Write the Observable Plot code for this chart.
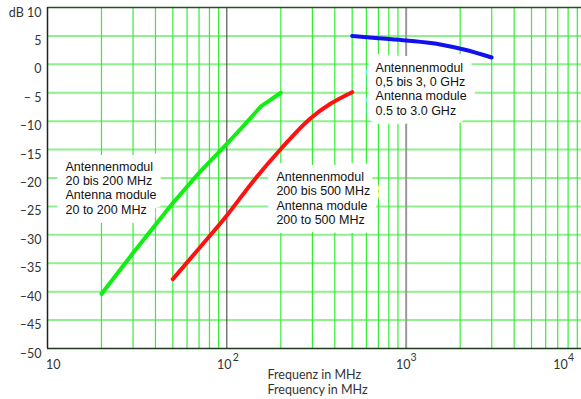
<!DOCTYPE html>
<html>
<head>
<meta charset="utf-8">
<script src="https://cdn.jsdelivr.net/npm/d3@7"></script>
<script src="https://cdn.jsdelivr.net/npm/@observablehq/plot@0.6"></script>
<style>
  html, body { margin: 0; padding: 0; background: #fff; }
</style>
</head>
<body>
<div id="chart"></div>
<script>
// ---- data ----
const greenFreq = [20, 30, 50, 70, 100, 120, 155, 200];
const greenDb   = [-40.4, -33.2, -24.4, -19.1, -14.0, -11.3, -7.4, -5.0];

const redFreq = [50, 70, 100, 140, 200, 290, 380, 500];
const redDb   = [-37.8, -32.4, -26.6, -20.6, -14.9, -9.6, -6.9, -4.9];

const blueFreq = [500, 700, 1000, 1550, 2100, 3000];
const blueDb   = [5.0, 4.6, 4.2, 3.5, 2.6, 1.2];

const labelText = [
  "Antennenmodul\n20 bis 200 MHz\nAntenna module\n20 to 200 MHz",
  "Antennenmodul\n200 bis 500 MHz\nAntenna module\n200 to 500 MHz",
  "Antennenmodul\n0,5 bis 3, 0 GHz\nAntenna module\n0.5 to 3.0 GHz"
];
const labelFreq = [12.6, 189, 675];
const labelDb   = [-16.9, -18.7, 0.5];

const yTickValues = [10, 5, 0, -5, -10, -15, -20, -25, -30, -35, -40, -45, -50];
const yTickLabels = ["dB 10", "5", "0", "\u2013 5", "\u201310", "\u201315", "\u201320", "\u201325", "\u201330", "\u201335", "\u201340", "\u201345", "\u201350"];

const xTickValues = [10, 100, 1000, 10000];
const xTickBase = ["10", "10", "10", "10"];
const xTickExp = ["", "2", "3", "4"];

const minorFreq = [];
for (const d of [10, 100, 1000]) for (let k = 2; k <= 9; k++) minorFreq.push(k * d);
const gridDb = [5, 0, -5, -10, -15, -20, -25, -30, -35, -40, -45];

const xTitle = "Frequenz in MHz\nFrequency in MHz";

// ---- tables ----
const toRows = (fs, ds) => fs.map((f, i) => ({f, db: ds[i]}));
const green = toRows(greenFreq, greenDb);
const red = toRows(redFreq, redDb);
const blue = toRows(blueFreq, blueDb);
const labels = labelText.map((t, i) => ({t, f: labelFreq[i], db: labelDb[i]}));
const yTicks = yTickValues.map((v, i) => ({v, t: yTickLabels[i]}));
const xTicks = xTickValues.map((v, i) => ({v, b: xTickBase[i], e: xTickExp[i]}));

const axisFont = "Lato, 'DejaVu Sans', sans-serif";
const annFont = "'Liberation Sans', Arial, sans-serif";
const tickStyle = {fontSize: 12.5, fill: "#333", fontFamily: axisFont, frameAnchor: "bottom", lineAnchor: "top"};
const expStyle = {fontSize: 10.5, fill: "#333", fontFamily: axisFont, frameAnchor: "bottom", lineAnchor: "top", textAnchor: "middle"};
const labelStyle = {x: "f", y: "db", text: "t", textAnchor: "start", lineAnchor: "top",
  fontSize: 12.5, lineHeight: 1.15, fontFamily: annFont};

const chart = Plot.plot({
  width: 581,
  height: 399,
  marginLeft: 47,
  marginRight: 0,
  marginTop: 7,
  marginBottom: 51,
  style: {background: "white", fontFamily: axisFont, overflow: "visible"},
  x: {type: "log", domain: [10, 9500], axis: null},
  y: {domain: [-50, 10], axis: null},
  marks: [
    Plot.ruleY(gridDb, {stroke: "#8ef08e", strokeWidth: 2}),
    Plot.ruleX(minorFreq, {stroke: "#33ee33", strokeWidth: 1.2}),
    Plot.ruleX([100], {stroke: "#333", strokeWidth: 1}),
    Plot.ruleX([1000], {stroke: "#999", strokeWidth: 2}),
    Plot.ruleY([10], {stroke: "#2a4a2a", strokeWidth: 1.5}),
    Plot.ruleY([-50], {stroke: "#1a3a1a", strokeWidth: 1.5}),
    Plot.ruleX([10], {stroke: "#222", strokeWidth: 1.5}),
    // white boxes behind annotation labels (halo layer)
    Plot.text(labels, {...labelStyle, fill: "white", stroke: "white", strokeWidth: 18, strokeLinejoin: "round"}),
    // curves
    Plot.line(green, {x: "f", y: "db", stroke: "#11ee11", strokeWidth: 4, curve: "linear", strokeLinecap: "round", strokeLinejoin: "round"}),
    Plot.line(red, {x: "f", y: "db", stroke: "#ff1111", strokeWidth: 4, curve: "monotone-x", strokeLinecap: "round"}),
    Plot.line(blue, {x: "f", y: "db", stroke: "#1111ee", strokeWidth: 4, curve: "monotone-x", strokeLinecap: "round"}),
    // annotation text
    Plot.text(labels, {...labelStyle, fill: "#111"}),
    // y tick labels
    Plot.text(yTicks, {
      y: "v", text: "t", frameAnchor: "left",
      textAnchor: "end", dx: -6, dy: 5,
      fontSize: 12.5, fill: "#333", fontFamily: axisFont
    }),
    // x tick labels: base "10"
    Plot.text(xTicks.slice(0, 1), {...tickStyle, x: "v", text: "b", textAnchor: "start", dx: -1.5, dy: 12}),
    Plot.text(xTicks.slice(1, 2), {...tickStyle, x: "v", text: "b", textAnchor: "middle", dx: -2.5, dy: 12}),
    Plot.text(xTicks.slice(2, 3), {...tickStyle, x: "v", text: "b", textAnchor: "middle", dx: -3, dy: 12}),
    Plot.text(xTicks.slice(3, 4), {...tickStyle, x: "v", text: "b", textAnchor: "middle", dx: -25, dy: 12}),
    // x tick labels: exponents
    Plot.text(xTicks.slice(1, 2), {...expStyle, x: "v", text: "e", dx: 9, dy: 5}),
    Plot.text(xTicks.slice(2, 3), {...expStyle, x: "v", text: "e", dx: 7.5, dy: 5}),
    Plot.text(xTicks.slice(3, 4), {...expStyle, x: "v", text: "e", dx: -14.5, dy: 5}),
    // x axis title
    Plot.text([xTitle], {
      frameAnchor: "bottom-left", textAnchor: "start", lineAnchor: "top",
      dx: 220, dy: 20, fontSize: 12.5, lineHeight: 1.2, fill: "#333", fontFamily: axisFont
    })
  ]
});

document.getElementById("chart").appendChild(chart);
</script>
</body>
</html>
